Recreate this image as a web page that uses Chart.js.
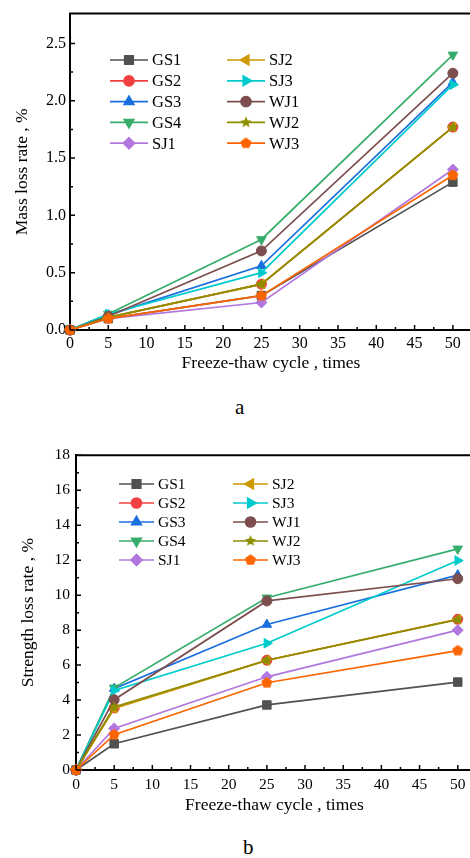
<!DOCTYPE html>
<html>
<head>
<meta charset="utf-8">
<script src="https://cdn.jsdelivr.net/npm/chart.js@4.4.1/dist/chart.umd.min.js"></script>
<style>
  html, body { margin: 0; padding: 0; background: #fff; }
  body { width: 470px; height: 858px; overflow: hidden; position: relative; font-family: 'Liberation Serif', 'Times New Roman', serif; }
  .panel { position: absolute; left: 0; width: 480px; }
  #wrapA { top: 0; height: 390px; }
  #wrapB { top: 440px; height: 380px; }
  .tag { position: absolute; font-size: 21px; color: #000; line-height: 24px; }
</style>
</head>
<body>
<div id="wrapA" class="panel"><canvas id="massChart"></canvas></div>
<div class="tag" style="left:235px; top:395px">a</div>
<div id="wrapB" class="panel"><canvas id="strengthChart"></canvas></div>
<div class="tag" style="left:243px; top:835px">b</div>

<script>
// freeze-thaw cycles (x)
const cycles = [0, 5, 25, 50];
const xTickValues = [0, 5, 10, 15, 20, 25, 30, 35, 40, 45, 50];
const massTickValues = [0, 0.5, 1.0, 1.5, 2.0, 2.5];
const strengthTickValues = [0, 2, 4, 6, 8, 10, 12, 14, 16, 18];

const seriesNames = ['GS1', 'GS2', 'GS3', 'GS4', 'SJ1', 'SJ2', 'SJ3', 'WJ1', 'WJ2', 'WJ3'];

// panel a - mass loss rate, %
const massGS1 = [0, 0.10, 0.30, 1.29];
const massGS2 = [0, 0.11, 0.40, 1.77];
const massGS3 = [0, 0.13, 0.56, 2.16];
const massGS4 = [0, 0.14, 0.79, 2.40];
const massSJ1 = [0, 0.10, 0.24, 1.40];
const massSJ2 = [0, 0.11, 0.40, 1.77];
const massSJ3 = [0, 0.14, 0.50, 2.14];
const massWJ1 = [0, 0.12, 0.69, 2.24];
const massWJ2 = [0, 0.11, 0.40, 1.77];
const massWJ3 = [0, 0.10, 0.30, 1.35];

// panel b - strength loss rate, %
const strengthGS1 = [0, 1.50, 3.72, 5.03];
const strengthGS2 = [0, 3.55, 6.28, 8.62];
const strengthGS3 = [0, 4.65, 8.32, 11.15];
const strengthGS4 = [0, 4.70, 9.85, 12.65];
const strengthSJ1 = [0, 2.38, 5.33, 8.00];
const strengthSJ2 = [0, 3.52, 6.27, 8.62];
const strengthSJ3 = [0, 4.55, 7.25, 11.98];
const strengthWJ1 = [0, 4.02, 9.67, 10.94];
const strengthWJ2 = [0, 3.60, 6.28, 8.60];
const strengthWJ3 = [0, 2.02, 4.99, 6.83];

const massSeries = [massGS1, massGS2, massGS3, massGS4, massSJ1, massSJ2, massSJ3, massWJ1, massWJ2, massWJ3];
const strengthSeries = [strengthGS1, strengthGS2, strengthGS3, strengthGS4, strengthSJ1, strengthSJ2, strengthSJ3, strengthWJ1, strengthWJ2, strengthWJ3];

const FONT = "'Liberation Serif', 'Times New Roman', serif";

// polygon / star marker as a small canvas
function shapeMarker(color, points, R, innerRatio) {
  const size = Math.ceil(R * 2) + 2;
  const c = document.createElement('canvas');
  c.width = c.height = size;
  const g = c.getContext('2d');
  const n = innerRatio ? points * 2 : points;
  g.fillStyle = color;
  g.beginPath();
  for (let i = 0; i < n; i++) {
    const r = innerRatio && i % 2 ? R * innerRatio : R;
    const a = -Math.PI / 2 + i * 2 * Math.PI / n;
    const px = size / 2 + r * Math.cos(a), py = size / 2 + r * Math.sin(a);
    i ? g.lineTo(px, py) : g.moveTo(px, py);
  }
  g.closePath();
  g.fill();
  return c;
}

const STYLES = {
  GS1: { color: '#515151', point: 'rect', radius: 6, rot: 0 },
  GS2: { color: '#F14040', point: 'circle', radius: 5, rot: 0 },
  GS3: { color: '#1A6FDF', point: 'triangle', radius: 5.5, rot: 0 },
  GS4: { color: '#37AD6B', point: 'triangle', radius: 5.5, rot: 180 },
  SJ1: { color: '#B177DE', point: 'rectRot', radius: 5.5, rot: 0 },
  SJ2: { color: '#CC9900', point: 'triangle', radius: 5.5, rot: -90 },
  SJ3: { color: '#00CBCC', point: 'triangle', radius: 5.5, rot: 90 },
  WJ1: { color: '#7D4E4E', point: 'circle', radius: 5, rot: 0 },
  WJ2: { color: '#8E8E00', point: shapeMarker('#8E8E00', 5, 6, 0.45), radius: 5, rot: 0 },
  WJ3: { color: '#FB6501', point: shapeMarker('#FB6501', 5, 5.8, 0), radius: 5, rot: 0 },
};

function buildDatasets(series) {
  return seriesNames.map((name, i) => {
    const st = STYLES[name];
    return {
      label: name,
      data: cycles.map((c, j) => ({ x: c, y: series[i][j] })),
      borderColor: st.color,
      backgroundColor: st.color,
      borderWidth: 1.7,
      pointStyle: st.point,
      pointRadius: st.radius,
      pointRotation: st.rot,
      pointBorderWidth: 1,
      pointBorderColor: st.color,
      pointBackgroundColor: st.color,
      tension: 0,
      clip: false,
      order: seriesNames.length - i,   // later series drawn on top
    };
  });
}

// inward major/minor ticks + top frame line
const frameTicks = {
  id: 'frameTicks',
  afterDraw(chart) {
    const { ctx, chartArea: a, scales: { x, y } } = chart;
    const o = chart.options.plugins.frameTicks;
    ctx.save();
    ctx.strokeStyle = '#000';
    ctx.lineWidth = 2;
    ctx.beginPath();
    ctx.moveTo(a.left - 1, a.top);
    ctx.lineTo(a.right, a.top);
    ctx.stroke();
    ctx.lineWidth = 1.5;
    const mids = v => v.slice(1).map((t, i) => (t + v[i]) / 2);
    ctx.beginPath();
    o.xTicks.forEach(v => { const p = x.getPixelForValue(v); ctx.moveTo(p, a.bottom); ctx.lineTo(p, a.bottom - 5); });
    mids(o.xTicks).forEach(v => { const p = x.getPixelForValue(v); ctx.moveTo(p, a.bottom); ctx.lineTo(p, a.bottom - 3); });
    o.yTicks.forEach(v => { const p = y.getPixelForValue(v); ctx.moveTo(a.left, p); ctx.lineTo(a.left + 5, p); });
    mids(o.yTicks).forEach(v => { const p = y.getPixelForValue(v); ctx.moveTo(a.left, p); ctx.lineTo(a.left + 3, p); });
    ctx.stroke();
    ctx.restore();
  }
};

// two-column legend drawn inside the plot
const innerLegend = {
  id: 'innerLegend',
  afterDraw(chart) {
    const { ctx } = chart;
    const o = chart.options.plugins.innerLegend;
    ctx.save();
    ctx.font = `${o.fontSize}px ${FONT}`;
    ctx.textBaseline = 'middle';
    ctx.fillStyle = '#000';
    chart.data.datasets.forEach((ds, i) => {
      const col = Math.floor(i / 5), row = i % 5;
      const x0 = o.cols[col], y0 = o.top + row * o.rowGap;
      const st = STYLES[ds.label];
      ctx.strokeStyle = st.color;
      ctx.lineWidth = 1.7;
      ctx.beginPath();
      ctx.moveTo(x0, y0);
      ctx.lineTo(x0 + o.lineLen, y0);
      ctx.stroke();
      ctx.fillStyle = st.color;
      Chart.helpers.drawPoint(ctx, {
        pointStyle: st.point, radius: st.radius, rotation: st.rot, borderWidth: 1
      }, x0 + o.lineLen / 2, y0);
      ctx.fillStyle = '#000';
      ctx.fillText(ds.label, x0 + o.lineLen + 4, y0 + 1);
    });
    ctx.restore();
  }
};

function makeChart(id, series, cfg) {
  const ctx = document.getElementById(id)?.getContext('2d');
  if (!ctx) return null;
  return new Chart(ctx, {
    type: 'line',
    data: { datasets: buildDatasets(series) },
    plugins: [frameTicks, innerLegend],
    options: {
      responsive: true,
      maintainAspectRatio: false,
      animation: false,
      layout: { padding: { top: cfg.padTop, right: cfg.padRight, left: 0, bottom: 0 } },
      plugins: {
        legend: { display: false },
        tooltip: { enabled: false },
        frameTicks: { xTicks: xTickValues, yTicks: cfg.yTicks },
        innerLegend: cfg.legend,
      },
      scales: {
        x: {
          type: 'linear',
          min: 0,
          max: cfg.xMax,
          afterBuildTicks: s => { s.ticks = xTickValues.map(v => ({ value: v })); },
          afterFit: s => { s.height = cfg.xAxisHeight; },
          grid: { display: false, drawTicks: false },
          border: { display: true, color: '#000', width: 2 },
          ticks: { color: '#000', font: { family: FONT, size: cfg.tickSize }, padding: cfg.xTickPad, maxRotation: 0, autoSkip: false },
          title: {
            display: true, text: 'Freeze-thaw cycle , times', color: '#000',
            font: { family: FONT, size: 17.5 }, padding: { top: 0, bottom: cfg.xTitlePad }
          }
        },
        y: {
          min: 0,
          max: cfg.yMax,
          afterBuildTicks: s => { s.ticks = cfg.yTicks.map(v => ({ value: v })); },
          afterFit: s => { s.width = cfg.yAxisWidth; },
          grid: { display: false, drawTicks: false },
          border: { display: true, color: '#000', width: 2 },
          ticks: { color: '#000', font: { family: FONT, size: cfg.tickSize }, padding: cfg.yTickPad, callback: cfg.yFormat },
          title: {
            display: true, text: cfg.yTitle, color: '#000',
            font: { family: FONT, size: 17.5 }, padding: { top: cfg.yTitlePad, bottom: 0 }
          }
        }
      }
    }
  });
}

makeChart('massChart', massSeries, {
  padTop: 5, padRight: 8, xMax: 52.5, yMax: 2.76, xAxisHeight: 60, yAxisWidth: 70,
  tickSize: 16, xTickPad: 4, yTickPad: 4, xTitlePad: 16, yTitlePad: 12,
  yTicks: massTickValues, yFormat: v => v.toFixed(1), yTitle: 'Mass loss rate , %',
  legend: { cols: [110, 227], lineLen: 38, top: 60, rowGap: 20.8, fontSize: 16.5 }
});

makeChart('strengthChart', strengthSeries, {
  padTop: 7, padRight: 5, xMax: 52, yMax: 18, xAxisHeight: 50, yAxisWidth: 76,
  tickSize: 15.5, xTickPad: 6, yTickPad: 6, xTitlePad: 4, yTitlePad: 18,
  yTicks: strengthTickValues, yFormat: v => String(v), yTitle: 'Strength loss rate , %',
  legend: { cols: [119, 233], lineLen: 35, top: 44, rowGap: 19, fontSize: 15.5 }
});
</script>
</body>
</html>
